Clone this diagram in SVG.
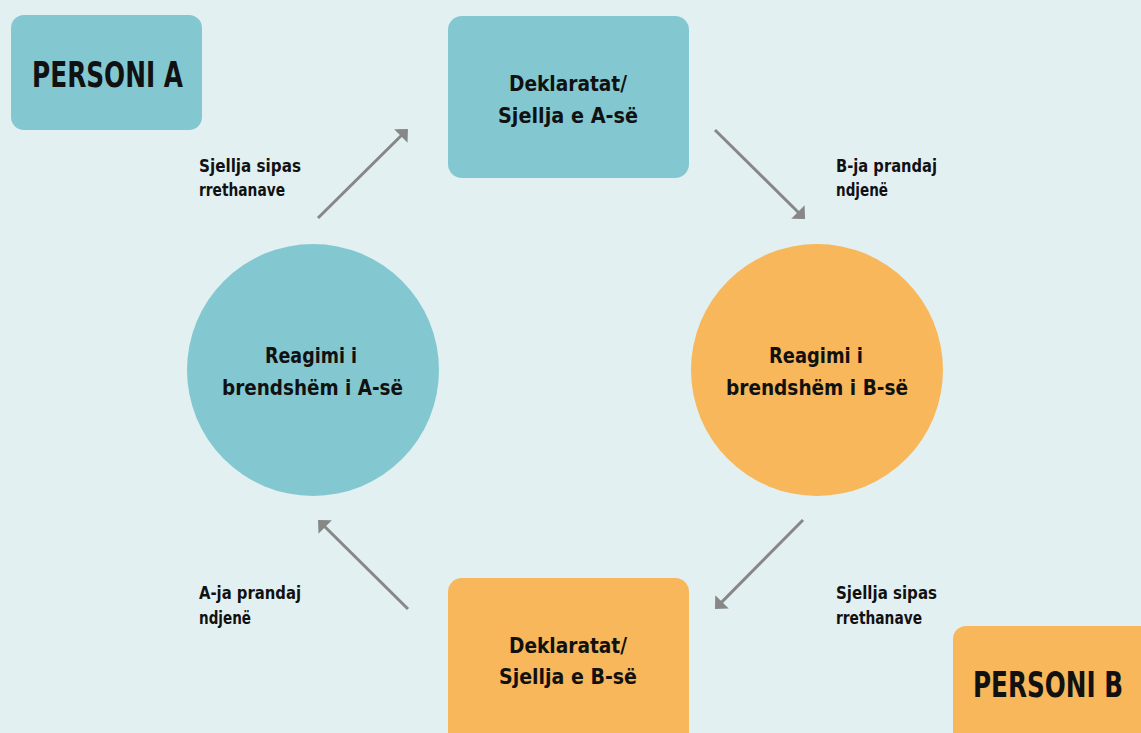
<svg xmlns="http://www.w3.org/2000/svg" width="1141" height="733" viewBox="0 0 1141 733">
  <defs>
    <marker id="head" viewBox="0 0 10 19" refX="5" refY="9.5" markerWidth="10" markerHeight="19" orient="auto" markerUnits="userSpaceOnUse">
      <path d="M0,0 L10,9.5 L0,19 z" fill="#878787"/>
    </marker>
    <style>
      .t { font-family: "DejaVu Sans Condensed", "DejaVu Sans", sans-serif; font-weight: bold; fill: #111; }
      .node { font-size: 22px; text-anchor: middle; }
      .title { font-size: 35px; text-anchor: middle; }
      .lbl { font-size: 18px; }
      .blue { fill: #83c8d1; }
      .orange { fill: #f7b75a; }
      .conn { stroke: #878787; stroke-width: 3; fill: none; marker-end: url(#head); }
    </style>
  </defs>

  <rect width="1141" height="733" fill="#e2f0f1"/>

  <g id="persona-a">
    <rect class="blue" x="11" y="15" width="191" height="115" rx="13"/>
    <text class="t title" x="107.5" y="87" textLength="151" lengthAdjust="spacingAndGlyphs">PERSONI A</text>
  </g>

  <g id="statements-a">
    <rect class="blue" x="448" y="16" width="241" height="162" rx="14"/>
    <text class="t node" x="568" y="91" textLength="118" lengthAdjust="spacingAndGlyphs">Deklaratat/</text>
    <text class="t node" x="568" y="123" textLength="140" lengthAdjust="spacingAndGlyphs">Sjellja e A-së</text>
  </g>

  <g id="reaction-a">
    <circle class="blue" cx="313" cy="370" r="126"/>
    <text class="t node" x="311" y="363" textLength="92" lengthAdjust="spacingAndGlyphs">Reagimi i</text>
    <text class="t node" x="312.5" y="395" textLength="181" lengthAdjust="spacingAndGlyphs">brendshëm i A-së</text>
  </g>

  <g id="reaction-b">
    <circle class="orange" cx="817" cy="370" r="126"/>
    <text class="t node" x="816" y="363" textLength="94" lengthAdjust="spacingAndGlyphs">Reagimi i</text>
    <text class="t node" x="817" y="395" textLength="182" lengthAdjust="spacingAndGlyphs">brendshëm i B-së</text>
  </g>

  <g id="statements-b">
    <rect class="orange" x="448" y="578" width="241" height="175" rx="14"/>
    <text class="t node" x="568" y="653" textLength="118" lengthAdjust="spacingAndGlyphs">Deklaratat/</text>
    <text class="t node" x="568" y="684" textLength="138" lengthAdjust="spacingAndGlyphs">Sjellja e B-së</text>
  </g>

  <g id="persona-b">
    <rect class="orange" x="953" y="626" width="200" height="127" rx="13"/>
    <text class="t title" x="1048" y="697" textLength="150" lengthAdjust="spacingAndGlyphs">PERSONI B</text>
  </g>

  <g id="connectors">
    <line class="conn" x1="318" y1="218" x2="404.4" y2="132.5"/>
    <line class="conn" x1="715" y1="130" x2="801.5" y2="215.5"/>
    <line class="conn" x1="803" y1="520" x2="718.5" y2="605.4"/>
    <line class="conn" x1="408" y1="609" x2="321.6" y2="523.5"/>
  </g>

  <g id="labels">
    <text class="t lbl" x="199" y="172" textLength="102" lengthAdjust="spacingAndGlyphs">Sjellja sipas</text>
    <text class="t lbl" x="199" y="196" textLength="86" lengthAdjust="spacingAndGlyphs">rrethanave</text>
    <text class="t lbl" x="836" y="172" textLength="101" lengthAdjust="spacingAndGlyphs">B-ja prandaj</text>
    <text class="t lbl" x="836" y="196" textLength="52" lengthAdjust="spacingAndGlyphs">ndjenë</text>
    <text class="t lbl" x="199" y="599" textLength="102" lengthAdjust="spacingAndGlyphs">A-ja prandaj</text>
    <text class="t lbl" x="199" y="624" textLength="52" lengthAdjust="spacingAndGlyphs">ndjenë</text>
    <text class="t lbl" x="836" y="599" textLength="101" lengthAdjust="spacingAndGlyphs">Sjellja sipas</text>
    <text class="t lbl" x="836" y="624" textLength="86" lengthAdjust="spacingAndGlyphs">rrethanave</text>
  </g>
</svg>
